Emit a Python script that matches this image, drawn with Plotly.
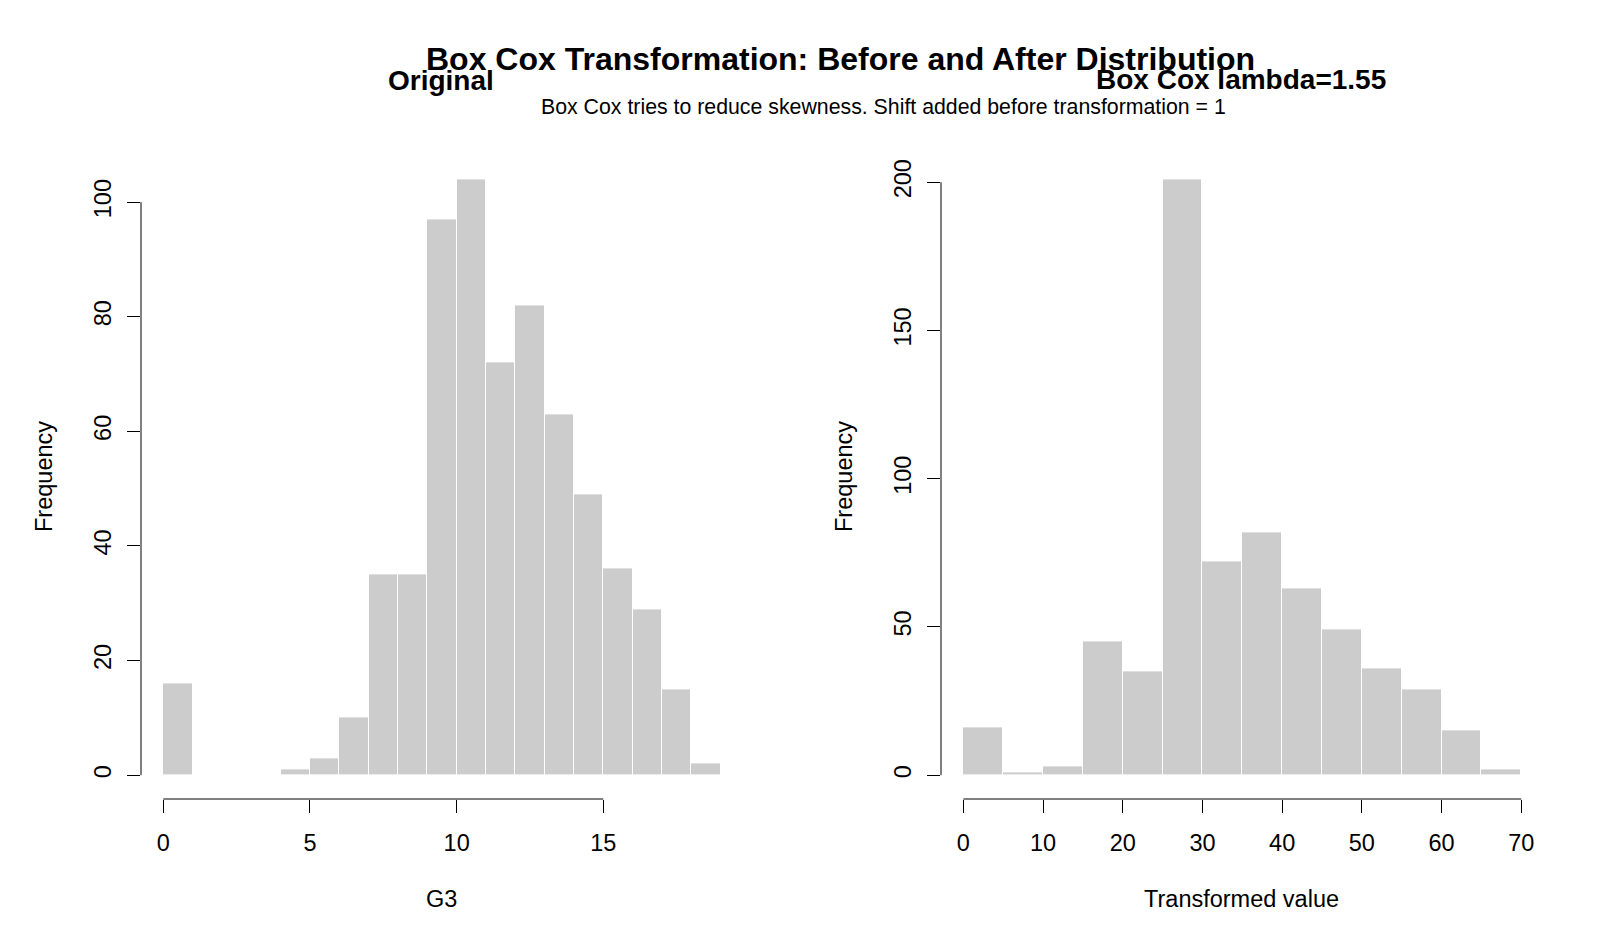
import plotly.graph_objects as go

# ---------------- data ----------------
left_breaks = list(range(0, 20))            # bin edges 0..19 (width 1)
left_counts = [16, 0, 0, 0, 1, 3, 10, 35, 35, 97, 104, 72, 82, 63, 49, 36, 29, 15, 2]
left_xticks = [0, 5, 10, 15]
left_yticks = [0, 20, 40, 60, 80, 100]

right_breaks = list(range(0, 75, 5))        # bin edges 0..70 (width 5)
right_counts = [16, 1, 3, 45, 35, 201, 72, 82, 63, 49, 36, 29, 15, 2]
right_xticks = [0, 10, 20, 30, 40, 50, 60, 70]
right_yticks = [0, 50, 100, 150, 200]

main_title = "Box Cox Transformation: Before and After Distribution"
subtitle = "Box Cox tries to reduce skewness. Shift added before transformation = 1"
left_title = "Original"
right_title = "Box Cox lambda=1.55"
left_xlabel = "G3"
right_xlabel = "Transformed value"
ylabel = "Frequency"

# ---------------- style ----------------
FONT = "Liberation Sans, Arial, sans-serif"
BAR_COLOR = "#CCCCCC"
TICK_SIZE = 23.5


def r_range(lo, hi):
    pad = (hi - lo) * 0.04
    return [lo - pad, hi + pad]


def hist_trace(breaks, counts, xa, ya):
    centers = [(breaks[i] + breaks[i + 1]) / 2 for i in range(len(counts))]
    widths = [breaks[i + 1] - breaks[i] for i in range(len(counts))]
    return go.Bar(
        x=centers, y=counts, width=widths, xaxis=xa, yaxis=ya,
        marker=dict(color=BAR_COLOR, line=dict(color="white", width=1)),
        showlegend=False, hoverinfo="x+y",
    )


fig = go.Figure()
fig.add_trace(hist_trace(left_breaks, left_counts, "x", "y"))
fig.add_trace(hist_trace(right_breaks, right_counts, "x2", "y2"))

ydom = [1 - 799 / 941, 1 - 155.4 / 941]
xdom1 = [141 / 1600, 742.9 / 1600]
xdom2 = [941 / 1600, 1543.6 / 1600]

common_x = dict(showgrid=False, zeroline=False, showline=False, ticks="outside",
                ticklen=13, tickwidth=1, tickcolor="black",
                tickfont=dict(family=FONT, size=TICK_SIZE, color="black"),
                ticklabelstandoff=10, fixedrange=True)
common_y = dict(common_x, tickangle=-90, ticklabelstandoff=7)

fig.update_layout(
    width=1600, height=941,
    margin=dict(l=0, r=0, t=0, b=0),
    paper_bgcolor="white", plot_bgcolor="white",
    bargap=0,
    font=dict(family=FONT, color="black"),
    xaxis=dict(common_x, domain=xdom1, anchor="y",
               range=r_range(left_breaks[0], left_breaks[-1]),
               tickvals=left_xticks, ticktext=[str(v) for v in left_xticks]),
    yaxis=dict(common_y, domain=ydom, anchor="x",
               range=r_range(0, max(left_counts)),
               tickvals=left_yticks, ticktext=[str(v) for v in left_yticks]),
    xaxis2=dict(common_x, domain=xdom2, anchor="y2",
                range=r_range(right_breaks[0], right_breaks[-1]),
                tickvals=right_xticks, ticktext=[str(v) for v in right_xticks]),
    yaxis2=dict(common_y, domain=ydom, anchor="x2",
                range=r_range(0, max(right_counts)),
                tickvals=right_yticks, ticktext=[str(v) for v in right_yticks]),
)

# R-style axis lines spanning only first..last tick
shapes = []
for xa, ya, xt, yt in [("x", "y", left_xticks, left_yticks),
                       ("x2", "y2", right_xticks, right_yticks)]:
    shapes.append(dict(type="line", xref=xa, yref=ya + " domain",
                       x0=xt[0], x1=xt[-1], y0=0, y1=0,
                       line=dict(color="black", width=1)))
    shapes.append(dict(type="line", xref=xa + " domain", yref=ya,
                       x0=0, x1=0, y0=yt[0], y1=yt[-1],
                       line=dict(color="black", width=1)))
fig.update_layout(shapes=shapes)


def ann(text, x, y, size, bold=False, angle=0):
    return dict(text=f"<b>{text}</b>" if bold else text,
                x=x / 1600, y=1 - y / 941, xref="paper", yref="paper",
                xanchor="center", yanchor="middle", showarrow=False,
                textangle=angle, font=dict(family=FONT, size=size, color="black"))


annotations = [
    ann(main_title, 840.8, 59.5, 32, bold=True),
    ann(left_title, 441.3, 80.5, 28, bold=True),
    ann(right_title, 1241.4, 80, 28, bold=True),
    ann(subtitle, 883, 107.5, 21.3),
    ann(ylabel, 44, 477, TICK_SIZE, angle=-90),
    ann(ylabel, 844, 477, TICK_SIZE, angle=-90),
    ann(left_xlabel, 441.3, 899, TICK_SIZE),
    ann(right_xlabel, 1241.4, 899, TICK_SIZE),
]
fig.update_layout(annotations=annotations)

fig.write_html("out.html")
